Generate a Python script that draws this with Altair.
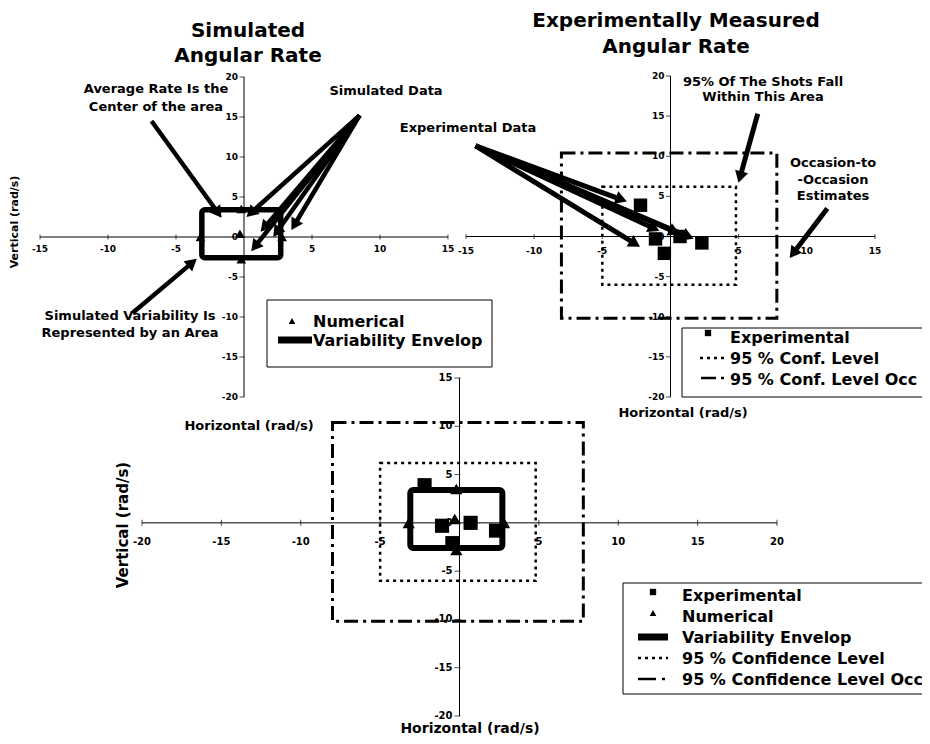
import math
import altair as alt
import pandas as pd

# ---------------- data (rad/s) ----------------
# Numerical (simulated) angular-rate points
num_h = [-3.2, -0.2, -0.3, 2.8, -0.2]
num_v = [0.0, 3.5, 0.4, 0.0, -2.8]
# Experimental points
exp_h = [-2.2, -1.1, 0.7, 2.3, -0.45]
exp_v = [3.9, -0.3, 0.0, -0.8, -2.1]
# Variability envelope (horizontal range, vertical range)
env_h = [-3.1, 2.7]
env_v = [-2.6, 3.4]
# 95 % confidence level
conf_h = [-5.0, 4.8]
conf_v = [-6.0, 6.2]
# 95 % confidence level, occasion-to-occasion
occ_h = [-8.0, 7.8]
occ_v = [-10.2, 10.4]

# tick values of the axes
ticks_top_x = [-15, -10, -5, 5, 10, 15]
ticks_top_y = [20, 15, 10, 5, 0, -5, -10, -15, -20]
ticks_bot_x = [-20, -15, -10, -5, 5, 10, 15, 20]
ticks_bot_y = [15, 10, 5, 0, -5, -10, -15, -20]

# annotation arrows (start -> end, in each panel's data units)
arrA_x0 = [-6.8, 8.5, 8.5, 8.5, 8.5, 8.5, -8.2]
arrA_y0 = [14.5, 15.2, 15.2, 15.2, 15.2, 15.2, -9.5]
arrA_x1 = [-1.9, 0.5, 1.5, 0.8, 2.4, 3.7, -3.8]
arrA_y1 = [3.0, 3.0, 1.2, -1.2, 0.6, 1.5, -3.2]
arrB_x0 = [-14.3, -14.3, -14.3, -14.3, -14.3, 6.4, 11.5]
arrB_y0 = [11.3, 11.3, 11.3, 11.3, 11.3, 15.3, 3.5]
arrB_x1 = [-3.6, -2.6, -1.2, 0.3, 1.3, 5.1, 9.0]
arrB_y1 = [4.6, -0.9, 1.0, 0.6, 0.0, 7.4, -2.1]

FONT = "DejaVu Sans"
BLACK = "#000000"


def sc(dom, rng):
    return alt.Scale(domain=dom, range=rng, nice=False, zero=False)


PANELS = {
    "A": dict(x=([-15, 15], [32, 440]), y=([-20, 20], [389, 69])),
    "B": dict(x=([-15, 15], [458, 867]), y=([-20, 20], [389, 68])),
    "C": dict(x=([-20, 20], [134, 769]), y=([-20, 15], [708, 370])),
}


def X(p, f):
    d, r = PANELS[p]["x"]
    return alt.X(f"{f}:Q", scale=sc(d, r), axis=None)


def Y(p, f):
    d, r = PANELS[p]["y"]
    return alt.Y(f"{f}:Q", scale=sc(d, r), axis=None)


def px_per_unit(p):
    (dx, rx), (dy, ry) = PANELS[p]["x"], PANELS[p]["y"]
    return abs(rx[1] - rx[0]) / (dx[1] - dx[0]), abs(ry[1] - ry[0]) / (dy[1] - dy[0])


layers = []


def axes(p, xr, yr, xt, yt, fs, xdy, ydx, tsize):
    df = pd.DataFrame({"x": [xr[0], 0], "x2": [xr[1], 0], "y": [0, yr[0]], "y2": [0, yr[1]]})
    layers.append(alt.Chart(df).mark_rule(color=BLACK, strokeWidth=1).encode(
        x=X(p, "x"), x2="x2:Q", y=Y(p, "y"), y2="y2:Q"))
    dfx = pd.DataFrame({"v": xt, "z": [0] * len(xt), "t": [str(v) for v in xt]})
    dfy = pd.DataFrame({"v": yt, "z": [0] * len(yt), "t": [str(v) for v in yt]})
    layers.append(alt.Chart(dfx).mark_tick(orient="vertical", size=tsize, thickness=1, color=BLACK).encode(
        x=X(p, "v"), y=Y(p, "z")))
    layers.append(alt.Chart(dfy).mark_tick(orient="horizontal", size=tsize, thickness=1, color=BLACK,
                                           xOffset=-2).encode(x=X(p, "z"), y=Y(p, "v")))
    layers.append(alt.Chart(dfx).mark_text(font=FONT, fontWeight="bold", fontSize=fs, dy=xdy, color=BLACK).encode(
        x=X(p, "v"), y=Y(p, "z"), text="t:N"))
    layers.append(alt.Chart(dfy).mark_text(font=FONT, fontWeight="bold", fontSize=fs, dx=-ydx, align="right",
                                           color=BLACK).encode(x=X(p, "z"), y=Y(p, "v"), text="t:N"))


def box(p, hr, vr, **kw):
    df = pd.DataFrame({"x": [hr[0]], "x2": [hr[1]], "y": [vr[0]], "y2": [vr[1]]})
    layers.append(alt.Chart(df).mark_rect(fillOpacity=0, stroke=BLACK, **kw).encode(
        x=X(p, "x"), x2="x2:Q", y=Y(p, "y"), y2="y2:Q"))


def pts(p, hs, vs, shape, size):
    df = pd.DataFrame({"h": hs, "v": vs})
    layers.append(alt.Chart(df).mark_point(shape=shape, filled=True, size=size, color=BLACK, opacity=1).encode(
        x=X(p, "h"), y=Y(p, "v")))


def arrows(p, x0, y0, x1, y1, width, head):
    sx, sy = px_per_unit(p)
    ang = []
    for a, b, c, d in zip(x0, y0, x1, y1):
        ddx = (c - a) * sx
        ddy = -(d - b) * sy
        ang.append(math.degrees(math.atan2(ddx, -ddy)) % 360)
    df = pd.DataFrame({"x": x0, "y": y0, "x2": x1, "y2": y1, "ang": ang})
    layers.append(alt.Chart(df).mark_rule(color=BLACK, strokeWidth=width).encode(
        x=X(p, "x"), y=Y(p, "y"), x2="x2:Q", y2="y2:Q"))
    layers.append(alt.Chart(df).mark_point(shape="triangle-up", filled=True, size=head, color=BLACK,
                                           opacity=1).encode(
        x=X(p, "x2"), y=Y(p, "y2"), angle=alt.Angle("ang:Q", scale=None)))


def text(t, x, y, size, align="center", baseline="alphabetic", angle=0, lh=None, weight="bold"):
    kw = dict(font=FONT, fontWeight=weight, fontSize=size, align=align, baseline=baseline, color=BLACK,
              lineBreak="\n")
    if angle:
        kw["angle"] = angle
    if lh:
        kw["lineHeight"] = lh
    layers.append(alt.Chart(pd.DataFrame({"t": [t]})).mark_text(**kw).encode(
        x=alt.value(x), y=alt.value(y), text="t:N"))


def lrule(x1, x2, y, width, dash=None):
    kw = dict(color=BLACK, strokeWidth=width)
    if dash:
        kw["strokeDash"] = dash
    layers.append(alt.Chart(pd.DataFrame({"a": [0]})).mark_rule(**kw).encode(
        x=alt.value(x1), x2=alt.value(x2), y=alt.value(y)))


def lsym(x, y, shape, size):
    layers.append(alt.Chart(pd.DataFrame({"a": [0]})).mark_point(shape=shape, filled=True, size=size,
                                                                   color=BLACK, opacity=1).encode(
        x=alt.value(x), y=alt.value(y)))


def lbox(x1, y1, x2, y2):
    layers.append(alt.Chart(pd.DataFrame({"a": [0]})).mark_rect(fill="white", stroke=BLACK, strokeWidth=1).encode(
        x=alt.value(x1), x2=alt.value(x2), y=alt.value(y1), y2=alt.value(y2)))


DOT = [3, 4]
DASHDOT = [14, 5, 3, 5]

# ---------------- panel A : simulated ----------------
axes("A", [-15, 15], [-20, 20], ticks_top_x, ticks_top_y, 9, 12, 6, 5)
box("A", env_h, env_v, strokeWidth=5.5, cornerRadius=3)
pts("A", num_h, num_v, "triangle-up", 95)
arrows("A", arrA_x0, arrA_y0, arrA_x1, arrA_y1, 4.5, 180)

# ---------------- panel B : experimental ----------------
axes("B", [-15, 15], [-20, 20], ticks_top_x, ticks_top_y, 9, 14, 6, 5)
box("B", occ_h, occ_v, strokeWidth=3, strokeDash=DASHDOT)
box("B", conf_h, conf_v, strokeWidth=2.5, strokeDash=DOT)
pts("B", exp_h, exp_v, "square", 180)
arrows("B", arrB_x0, arrB_y0, arrB_x1, arrB_y1, 5, 180)

# ---------------- panel C : combined ----------------
axes("C", [-20, 20], [-20, 15], ticks_bot_x, ticks_bot_y, 10, 19, 7, 6)
box("C", occ_h, occ_v, strokeWidth=3, strokeDash=DASHDOT)
box("C", conf_h, conf_v, strokeWidth=2.5, strokeDash=DOT)
box("C", env_h, env_v, strokeWidth=6, cornerRadius=3)
pts("C", exp_h, exp_v, "square", 200)
pts("C", num_h, num_v, "triangle-up", 150)

# ---------------- titles and annotations ----------------
text("Simulated\nAngular Rate", 240, 29, 20, lh=25)
text("Experimentally Measured\nAngular Rate", 668, 19, 20, lh=26)
text("Average Rate Is the\nCenter of the area", 148, 85, 13, lh=18)
text("Simulated Data", 378, 87, 13)
text("Simulated Variability Is\nRepresented by an Area", 122, 312, 13, lh=17)
text("Experimental Data", 460, 124, 13)
text("95%  Of The Shots Fall\nWithin This Area", 755, 78, 13, lh=15)
text("Occasion-to\n-Occasion\nEstimates", 825, 159, 13, lh=16.5)

# axis titles
text("Vertical (rad/s)", 7, 214, 11, baseline="middle", angle=270)
text("Horizontal (rad/s)", 241, 422, 13)
text("Horizontal (rad/s)", 675, 409, 13)
text("Vertical (rad/s)", 115, 517, 15, baseline="middle", angle=270)
text("Horizontal (rad/s)", 462, 725, 14)

# ---------------- legends ----------------
# panel A
lbox(259, 292, 484, 359)
lsym(284, 313, "triangle-up", 45)
lrule(270, 304, 332, 7)
text("Numerical", 305, 319, 16, align="left")
text("Variability Envelop", 305, 338, 16, align="left")

# panel B
lbox(674, 320, 920, 389)
lsym(700, 325, "square", 40)
lrule(692, 716, 350, 2.5, DOT)
lrule(693, 718, 370, 2.5, [15, 5, 3, 5])
text("Experimental", 722, 335, 16, align="left")
text("95 % Conf. Level", 722, 356, 16, align="left")
text("95 % Conf. Level Occ", 722, 377, 16, align="left")

# panel C
lbox(615, 575, 935, 686)
lsym(645, 584, "square", 40)
lsym(645, 605, "triangle-up", 45)
lrule(630, 660, 629, 7)
lrule(630, 660, 650, 2.5, DOT)
lrule(630, 662, 671, 2.5, [18, 6, 3, 6])
text("Experimental", 674, 593, 16, align="left")
text("Numerical", 674, 614, 16, align="left")
text("Variability Envelop", 674, 635, 16, align="left")
text("95 % Confidence Level", 674, 656, 16, align="left")
text("95 % Confidence Level Occ", 674, 677, 16, align="left")

chart = alt.layer(*layers).resolve_scale(x="independent", y="independent").properties(
    width=914, height=728, autosize=alt.AutoSizeParams(type="none"), padding=0,
    background="white").configure_view(stroke=None)

chart.save("out.html", embed_options={"renderer": "svg", "actions": False})
